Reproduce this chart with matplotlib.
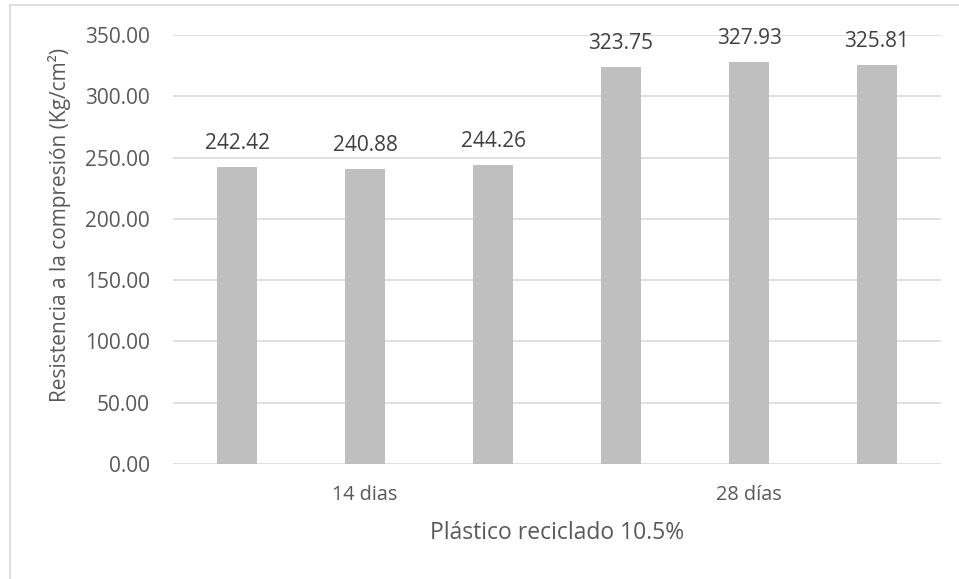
import numpy as np
import matplotlib.pyplot as plt
from matplotlib.lines import Line2D

# --- data ---
groups = ["14 dias", "28 días"]
values = [242.42, 240.88, 244.26, 323.75, 327.93, 325.81]
y_ticks = [0, 50, 100, 150, 200, 250, 300, 350]

plt.rcParams['font.family'] = ['Open Sans', 'DejaVu Sans']
text_col = '#595959'

fig = plt.figure(figsize=(9.59, 5.79), dpi=100)
ax = fig.add_axes([173 / 959, 1 - 464 / 579, (941 - 173) / 959, (464 - 35) / 579])

x = np.arange(len(values))
ax.bar(x, values, width=0.3125, color='#BFBFBF', zorder=3)
for xi, v in zip(x, values):
    ax.annotate(f"{v:.2f}", (xi, v), xytext=(0, 18), textcoords='offset pixels',
                ha='center', va='baseline', fontsize=15, color='#404040')

ax.set_xlim(-0.5, len(values) - 0.5)
ax.set_ylim(0, 350)
ax.set_yticks(y_ticks)
ax.set_yticklabels([f"{t:.2f}" for t in y_ticks], fontsize=15, color=text_col)
ax.tick_params(axis='y', length=0, pad=16.5)
ax.set_xticks([])
ax.grid(axis='y', color='#D9D9D9', linewidth=1.2, zorder=0)
for s in ax.spines.values():
    s.set_visible(False)

# group labels under the category axis
per_group = len(values) // len(groups)
for i, g in enumerate(groups):
    ax.text(i * per_group + (per_group - 1) / 2, -0.072, g, transform=ax.get_xaxis_transform(),
            ha='center', va='center', fontsize=14.3, color=text_col)

ax.set_xlabel("Plástico reciclado 10.5%", fontsize=16.5, color=text_col)
ax.xaxis.set_label_coords(0.5, -0.161)
ax.xaxis.label.set_va('center')
ax.set_ylabel("Resistencia a la compresión (Kg/cm²)", fontsize=15, color=text_col)
ax.yaxis.set_label_coords(-0.148, 0.557)
ax.yaxis.label.set_va('center')

# light chart border (left and top visible)
fig.add_artist(Line2D([9.5 / 959, 9.5 / 959], [0, 1 - 5 / 579], color='#D9D9D9', lw=1.2))
fig.add_artist(Line2D([9.5 / 959, 1], [1 - 5 / 579, 1 - 5 / 579], color='#D9D9D9', lw=1.2))

fig.savefig("out.png", dpi=100)
